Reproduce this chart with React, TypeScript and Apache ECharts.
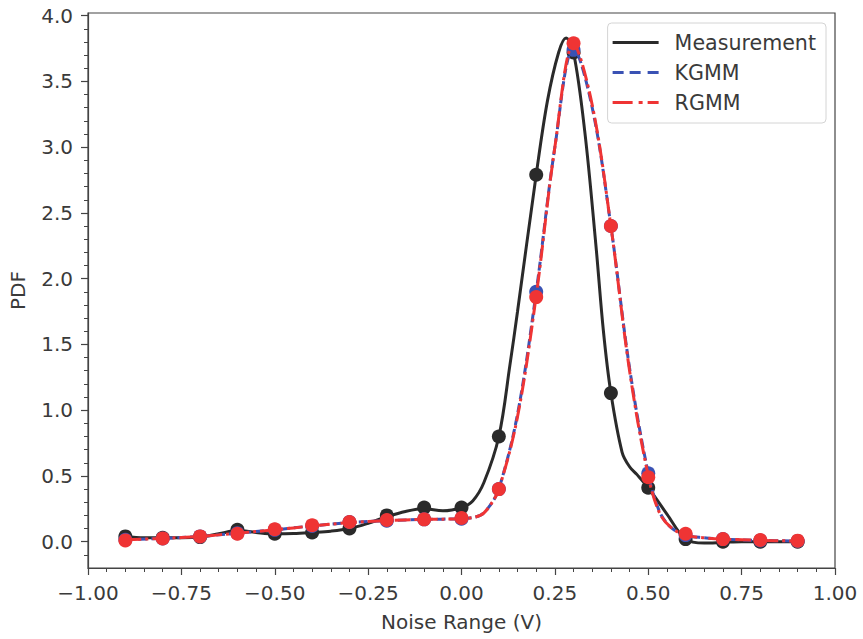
import React, { useEffect, useRef } from "react";
import * as echarts from "echarts";

// ---- Data ----
const POINT_X = [-0.9, -0.8, -0.7, -0.6, -0.5, -0.4, -0.3, -0.2, -0.1, 0.0, 0.1, 0.2, 0.3, 0.4, 0.5, 0.6, 0.7, 0.8, 0.9];
const MEAS_POINTS = [0.04, 0.03, 0.035, 0.09, 0.06, 0.07, 0.1, 0.2, 0.26, 0.26, 0.8, 2.79, 3.72, 1.13, 0.41, 0.02, 0.0, 0.0, 0.0];
const KGMM_POINTS = [0.015, 0.025, 0.04, 0.065, 0.09, 0.12, 0.15, 0.16, 0.17, 0.175, 0.4, 1.9, 3.74, 2.4, 0.52, 0.05, 0.02, 0.01, 0.005];
const RGMM_POINTS = [0.01, 0.025, 0.04, 0.06, 0.095, 0.125, 0.15, 0.165, 0.17, 0.18, 0.4, 1.86, 3.79, 2.4, 0.49, 0.06, 0.02, 0.013, 0.008];

const MEAS_CURVE_X = [-0.9, -0.85, -0.8, -0.75, -0.7, -0.65, -0.6, -0.55, -0.5, -0.45, -0.4, -0.35, -0.3, -0.25, -0.2, -0.15, -0.1, -0.05, 0.0, 0.03, 0.06, 0.1, 0.13, 0.15, 0.2, 0.23, 0.26, 0.28, 0.3, 0.33, 0.36, 0.38, 0.4, 0.43, 0.45, 0.47, 0.5, 0.55, 0.6, 0.65, 0.7, 0.75, 0.8, 0.85, 0.9];
const MEAS_CURVE_Y = [0.04, 0.03, 0.03, 0.03, 0.035, 0.06, 0.085, 0.07, 0.06, 0.062, 0.07, 0.08, 0.1, 0.14, 0.19, 0.23, 0.25, 0.235, 0.26, 0.31, 0.45, 0.8, 1.35, 1.75, 2.79, 3.35, 3.72, 3.83, 3.72, 3.12, 2.25, 1.6, 1.13, 0.68, 0.57, 0.51, 0.41, 0.21, 0.02, -0.01, -0.005, 0.0, 0.0, 0.0, 0.0];

const GMM_CURVE_X = [-0.9, -0.8, -0.7, -0.6, -0.5, -0.4, -0.3, -0.2, -0.1, 0.0, 0.05, 0.075, 0.1, 0.15, 0.2, 0.25, 0.3, 0.35, 0.4, 0.45, 0.5, 0.53, 0.56, 0.6, 0.65, 0.7, 0.8, 0.9];
const KGMM_CURVE_Y = [0.015, 0.025, 0.04, 0.065, 0.09, 0.12, 0.145, 0.16, 0.17, 0.175, 0.2, 0.27, 0.4, 0.97, 1.9, 3.0, 3.75, 3.3, 2.4, 1.32, 0.52, 0.23, 0.11, 0.05, 0.03, 0.02, 0.01, 0.005];
const RGMM_CURVE_Y = [0.015, 0.025, 0.04, 0.065, 0.09, 0.12, 0.145, 0.16, 0.17, 0.175, 0.2, 0.27, 0.4, 0.95, 1.87, 3.0, 3.78, 3.32, 2.4, 1.3, 0.5, 0.22, 0.11, 0.05, 0.03, 0.02, 0.01, 0.005];

const X_TICKS = [-1.0, -0.75, -0.5, -0.25, 0.0, 0.25, 0.5, 0.75, 1.0];
const Y_TICKS = [0.0, 0.5, 1.0, 1.5, 2.0, 2.5, 3.0, 3.5, 4.0];

const SERIES_NAMES = ["Measurement", "KGMM", "RGMM"];

const zip = (xs: number[], ys: number[]) => xs.map((x, i) => [x, ys[i]]);

const FONT = "DejaVu Sans";
const TEXT = "#3a3a3a";
const AXIS = "#444444";
const BLACK = "#2a2a2a";
const BLUE = "#3a52b4";
const RED = "#ef3434";

// legend line samples (46 x 3 boxes)
const ICON_SOLID = "path://M0,0H46V3H0Z";
const ICON_DASHED = "path://M0,0H11V3H0Z M17,0H28V3H17Z M35,0H46V3H35Z";
const ICON_DASHDOT = "path://M0,0H20V3H0Z M26,0H30V3H26Z M35,0H46V3H35Z";

export default function App() {
  const ref = useRef<HTMLDivElement>(null);

  useEffect(() => {
    if (!ref.current) return;
    const chart = echarts.init(ref.current, undefined, { renderer: "svg" });
    const fmtMinus = (s: string) => s.replace("-", "\u2212");
    chart.setOption({
      animation: false,
      backgroundColor: "#ffffff",
      grid: {
        left: 88,
        right: 28,
        top: 13,
        bottom: 71,
        show: true,
        borderColor: AXIS,
        borderWidth: 1.2,
        backgroundColor: "transparent",
      },
      legend: {
        data: [
          { name: SERIES_NAMES[0], icon: ICON_SOLID, itemStyle: { color: BLACK } },
          { name: SERIES_NAMES[1], icon: ICON_DASHED, itemStyle: { color: BLUE } },
          { name: SERIES_NAMES[2], icon: ICON_DASHDOT, itemStyle: { color: RED } },
        ],
        orient: "vertical",
        right: 37,
        top: 23,
        itemWidth: 46,
        itemHeight: 3,
        itemGap: 9,
        padding: [9, 10, 10, 5],
        backgroundColor: "#ffffff",
        borderColor: "#d4d4d4",
        borderWidth: 1,
        borderRadius: 4,
        textStyle: { fontFamily: FONT, fontSize: 20.6, color: TEXT, padding: [0, 0, 0, 11] },
      },
      xAxis: {
        type: "value",
        min: -1,
        max: 1,
        interval: 0.25,
        name: "Noise Range (V)",
        nameLocation: "middle",
        nameGap: 44,
        nameTextStyle: { fontFamily: FONT, fontSize: 20, color: TEXT },
        axisLine: { show: true, onZero: false, lineStyle: { color: AXIS, width: 1.2 } },
        axisTick: { show: true, length: 7, lineStyle: { color: AXIS, width: 1.2 }, customValues: X_TICKS },
        minorTick: { show: true, splitNumber: 5, length: 4, lineStyle: { color: AXIS, width: 1 } },
        splitLine: { show: false },
        axisLabel: {
          fontFamily: FONT,
          fontSize: 20,
          color: TEXT,
          margin: 15,
          customValues: X_TICKS,
          formatter: (v: number) => fmtMinus(v.toFixed(2)),
        },
      },
      yAxis: {
        type: "value",
        min: -0.2,
        max: 4.02,
        splitNumber: 8,
        name: "PDF",
        nameLocation: "middle",
        nameGap: 60,
        nameTextStyle: { fontFamily: FONT, fontSize: 20, color: TEXT },
        axisLine: { show: true, onZero: false, lineStyle: { color: AXIS, width: 1.2 } },
        axisTick: { show: true, length: 7, lineStyle: { color: AXIS, width: 1.2 }, customValues: Y_TICKS },
        minorTick: { show: true, splitNumber: 5, length: 4, lineStyle: { color: AXIS, width: 1 } },
        splitLine: { show: false },
        axisLabel: {
          fontFamily: FONT,
          fontSize: 20,
          color: TEXT,
          margin: 15,
          customValues: Y_TICKS,
          formatter: (v: number) => {
            const r = Math.round(v * 2) / 2;
            if (Math.abs(r - v) > 1e-6) return "";
            return fmtMinus(v.toFixed(1));
          },
        },
      },
      series: [
        {
          name: "Measurement",
          type: "line",
          data: zip(MEAS_CURVE_X, MEAS_CURVE_Y),
          symbol: "none",
          smooth: 0.35,
          lineStyle: { color: BLACK, width: 3 },
          itemStyle: { color: BLACK },
          z: 2,
        },
        {
          name: "Measurement points",
          type: "scatter",
          data: zip(POINT_X, MEAS_POINTS),
          symbol: "circle",
          symbolSize: 14,
          itemStyle: { color: BLACK, opacity: 1 },
          z: 3,
        },
        {
          name: "KGMM",
          type: "line",
          data: zip(GMM_CURVE_X, KGMM_CURVE_Y),
          symbol: "none",
          smooth: 0.35,
          lineStyle: { color: BLUE, width: 3, type: [9, 4] },
          itemStyle: { color: BLUE },
          z: 4,
        },
        {
          name: "KGMM points",
          type: "scatter",
          data: zip(POINT_X, KGMM_POINTS),
          symbol: "circle",
          symbolSize: 14,
          itemStyle: { color: BLUE, opacity: 1 },
          z: 5,
        },
        {
          name: "RGMM",
          type: "line",
          data: zip(GMM_CURVE_X, RGMM_CURVE_Y),
          symbol: "none",
          smooth: 0.35,
          lineStyle: { color: RED, width: 3, type: [16, 4, 3, 4] },
          itemStyle: { color: RED },
          z: 6,
        },
        {
          name: "RGMM points",
          type: "scatter",
          data: zip(POINT_X, RGMM_POINTS),
          symbol: "circle",
          symbolSize: 14,
          itemStyle: { color: RED, opacity: 1 },
          z: 7,
        },
      ],
    });
    return () => chart.dispose();
  }, []);

  return <div ref={ref} style={{ width: 863, height: 639, position: "absolute", left: 0, top: 0 }} />;
}
